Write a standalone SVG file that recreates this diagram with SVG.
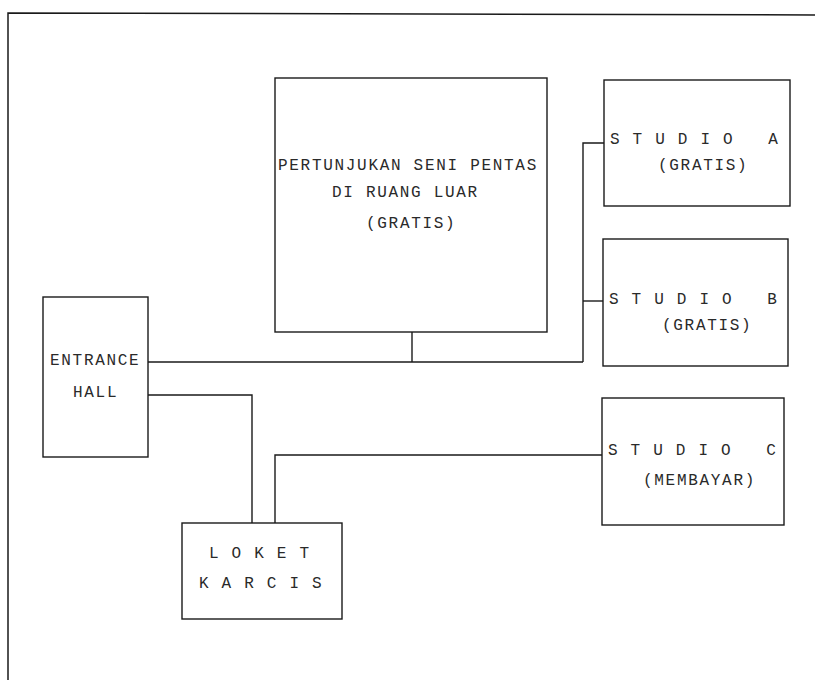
<svg xmlns="http://www.w3.org/2000/svg" width="815" height="680" viewBox="0 0 815 680">
<style>
.box{fill:none;stroke:#1a1a1a;stroke-width:1.4}
.frame{fill:none;stroke:#1a1a1a;stroke-width:1.5}
.con{fill:none;stroke:#1a1a1a;stroke-width:1.4}
.t{font-family:"Liberation Mono","DejaVu Sans Mono",monospace;font-size:16px;letter-spacing:1.7px;fill:#2a2a2a}
</style>
<rect width="815" height="680" fill="#ffffff"/>
<path class="frame" d="M815,15 L8,13 L8,680"/>
<g id="connectors">
<path class="con" d="M148,362 H583"/>
<path class="con" d="M412,332 V362"/>
<path class="con" d="M583,362 V143 H604"/>
<path class="con" d="M583,301 H603"/>
<path class="con" d="M148,395 H252 V523"/>
<path class="con" d="M275,523 V455 H602"/>
</g>
<g id="pertunjukan">
<rect class="box" x="275" y="78" width="272" height="254"/>
<text class="t" x="278" y="170">PERTUNJUKAN SENI PENTAS</text>
<text class="t" x="332" y="197">DI RUANG LUAR</text>
<text class="t" x="366" y="228">(GRATIS)</text>
</g>
<g id="studio-a">
<rect class="box" x="604" y="80" width="186" height="126"/>
<text class="t" x="610" y="144" xml:space="preserve">S T U D I O   A</text>
<text class="t" x="658" y="170">(GRATIS)</text>
</g>
<g id="studio-b">
<rect class="box" x="603" y="239" width="185" height="127"/>
<text class="t" x="609" y="304" xml:space="preserve">S T U D I O   B</text>
<text class="t" x="662" y="330">(GRATIS)</text>
</g>
<g id="studio-c">
<rect class="box" x="602" y="398" width="182" height="127"/>
<text class="t" x="608" y="455" xml:space="preserve">S T U D I O   C</text>
<text class="t" x="643" y="485">(MEMBAYAR)</text>
</g>
<g id="entrance-hall">
<rect class="box" x="43" y="297" width="105" height="160"/>
<text class="t" x="50" y="365">ENTRANCE</text>
<text class="t" x="73" y="397">HALL</text>
</g>
<g id="loket-karcis">
<rect class="box" x="182" y="523" width="160" height="96"/>
<text class="t" x="209" y="558" xml:space="preserve">L O K E T</text>
<text class="t" x="199" y="588" xml:space="preserve">K A R C I S</text>
</g>
</svg>
